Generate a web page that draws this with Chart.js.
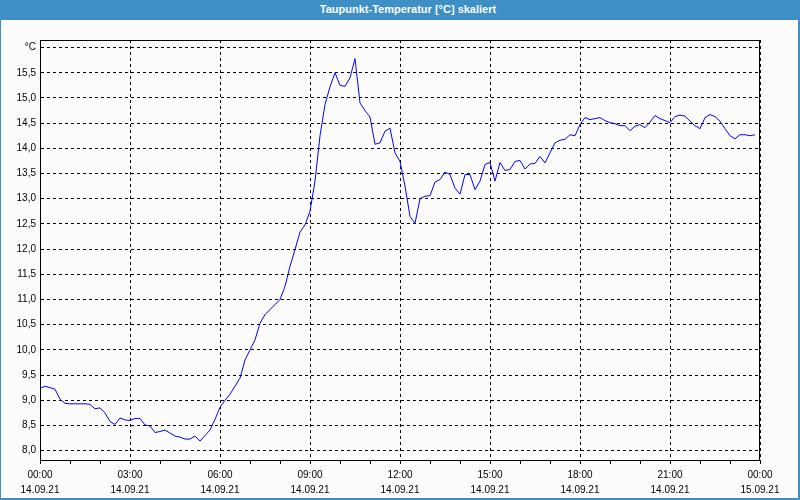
<!DOCTYPE html>
<html>
<head>
<meta charset="utf-8">
<script src="https://cdn.jsdelivr.net/npm/chart.js@4"></script>
<style>
  html, body { margin: 0; padding: 0; background: #fbfcfb; }
  #wrap { position: relative; width: 800px; height: 500px; overflow: hidden; }
  #chart { position: absolute; left: 0; top: 0; }
  #title {
    position: absolute; left: 0; top: 0; width: 800px; height: 20px;
    background: #3d8fc6; color: #fff; text-align: center;
    font: bold 11px "Liberation Sans", Arial, sans-serif; line-height: 19px;
    box-sizing: border-box; padding-left: 16px;
  }
  .edge { position: absolute; background: #3d8fc6; }
</style>
</head>
<body>
<div id="wrap">
  <canvas id="chart" width="800" height="500"></canvas>
  <div id="title">Taupunkt-Temperatur [°C] skaliert</div>
  <div class="edge" style="left:0;top:20px;width:1px;height:480px"></div>
  <div class="edge" style="right:0;top:20px;width:2px;height:480px"></div>
  <div class="edge" style="left:0;bottom:0;width:800px;height:2px"></div>
</div>
<script>
// dew point, one reading every 10 minutes from 14.09.21 00:00
const stepMinutes = 10;
const dewPoint = [
  9.24, 9.28, 9.25, 9.22, 9.02, 8.94, 8.93, 8.93, 8.93, 8.93, 8.92, 8.83,
  8.85, 8.75, 8.58, 8.52, 8.65, 8.61, 8.60, 8.64, 8.64, 8.51, 8.49, 8.36,
  8.38, 8.41, 8.35, 8.29, 8.27, 8.23, 8.23, 8.29, 8.19, 8.30, 8.41, 8.62,
  8.86, 9.00, 9.12, 9.28, 9.44, 9.80, 10.00, 10.20, 10.53, 10.70, 10.80, 10.90,
  11.00, 11.26, 11.66, 11.99, 12.34, 12.48, 12.75, 13.35, 14.25, 14.87, 15.22, 15.50,
  15.25, 15.23, 15.40, 15.78, 14.90, 14.75, 14.62, 14.08, 14.11, 14.34, 14.40, 13.91,
  13.74, 13.25, 12.65, 12.51, 13.00, 13.05, 13.06, 13.33, 13.38, 13.53, 13.48, 13.21,
  13.09, 13.48, 13.48, 13.18, 13.35, 13.68, 13.72, 13.35, 13.72, 13.56, 13.58, 13.74,
  13.76, 13.59, 13.69, 13.70, 13.84, 13.71, 13.91, 14.11, 14.16, 14.18, 14.27, 14.25,
  14.47, 14.61, 14.57, 14.59, 14.61, 14.55, 14.51, 14.49, 14.45, 14.45, 14.35, 14.44,
  14.47, 14.41, 14.52, 14.65, 14.59, 14.55, 14.51, 14.63, 14.66, 14.64, 14.54, 14.45,
  14.39, 14.61, 14.67, 14.63, 14.54, 14.39, 14.25, 14.19, 14.27, 14.27, 14.25, 14.27
];

// x tick labels every 3 hours
const xTickTimes = ['00:00', '03:00', '06:00', '09:00', '12:00', '15:00', '18:00', '21:00', '00:00'];
const xTickDates = ['14.09.21', '14.09.21', '14.09.21', '14.09.21', '14.09.21', '14.09.21', '14.09.21', '14.09.21', '15.09.21'];
const yUnit = '°C';

const points = dewPoint.map((v, i) => ({ x: i * stepMinutes, y: v }));

const frame = {
  id: 'frame',
  afterDraw(chart) {
    const { ctx, chartArea: a } = chart;
    ctx.save();
    ctx.strokeStyle = '#000';
    ctx.lineWidth = 1;
    ctx.strokeRect(a.left + 0.5, a.top + 0.5, a.right - a.left - 1, a.bottom - a.top);
    ctx.restore();
  }
};

Chart.defaults.font.family = '"Liberation Sans", Arial, sans-serif';
Chart.defaults.font.size = 10;
Chart.defaults.color = '#000';

new Chart(document.getElementById('chart'), {
  type: 'line',
  data: {
    datasets: [{
      data: points,
      borderColor: '#0000ff',
      borderWidth: 1,
      pointRadius: 0,
      tension: 0,
      fill: false
    }]
  },
  options: {
    responsive: false,
    animation: false,
    layout: { padding: { top: 40, right: 40, left: 0, bottom: 0 } },
    plugins: { legend: { display: false }, tooltip: { enabled: false } },
    scales: {
      x: {
        type: 'linear',
        min: 0,
        max: 1440,
        afterFit: s => { s.height = 40; },
        border: { color: '#000', width: 1, dash: [3, 3] },
        grid: {
          color: c => (c.tick && c.tick.value % 180 === 0) ? '#000' : 'rgba(0,0,0,0)',
          tickColor: '#000',
          tickLength: 4,
          lineWidth: 1
        },
        ticks: {
          stepSize: 60,
          autoSkip: false,
          maxRotation: 0,
          padding: 4,
          font: { lineHeight: 1.5 },
          callback: v => v % 180 === 0 ? [xTickTimes[v / 180], xTickDates[v / 180]] : ''
        }
      },
      y: {
        min: 7.815,
        max: 16.15,
        afterFit: s => { s.width = 40; },
        border: { color: '#000', width: 1, dash: [3, 3] },
        grid: { color: '#000', lineWidth: 1, drawTicks: false },
        ticks: {
          stepSize: 0.5,
          includeBounds: false,
          padding: 4,
          callback: v => Math.abs(v - 16) < 1e-6 ? yUnit : v.toFixed(1).replace('.', ',')
        }
      }
    }
  },
  plugins: [frame]
});
</script>
</body>
</html>
